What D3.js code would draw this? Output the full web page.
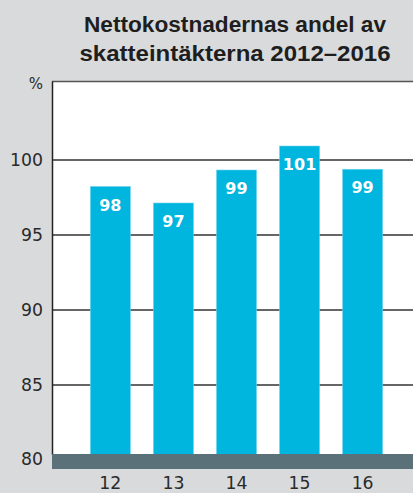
<!DOCTYPE html>
<html>
<head>
<meta charset="utf-8">
<script src="https://cdn.jsdelivr.net/npm/d3@7"></script>
<style>
  body { margin: 0; background: #d9dadc; }
  svg { display: block; font-family: "DejaVu Sans", sans-serif; }
</style>
</head>
<body>
<div id="chartArea"></div>
<script>
let years = ['12', '13', '14', '15', '16']
let values = [98.2, 97.1, 99.3, 100.9, 99.35]
let valueLabels = ['98', '97', '99', '101', '99']
let yTicks = [80, 85, 90, 95, 100]
let titleLines = ['Nettokostnadernas andel av', 'skatteintäkterna 2012–2016']

let svgWidth = 413
let svgHeight = 493
let tickFont = '"DejaVu Sans", sans-serif'

let yScale = d3.scaleLinear()
              .domain([80, 105.2])
              .range([459.5, 81.5])

let xScale = d3.scaleBand()
              .domain(years)
              .range([79, 394])
              .paddingInner(0.365)
              .paddingOuter(0.18)

let svg = d3.select('#chartArea')
    .append('svg')
    .attr('width', svgWidth)
    .attr('height', svgHeight)
    .style('background', '#d9dadc')

// title
svg.append('g').selectAll('text')
    .data(titleLines)
    .enter()
    .append('text')
    .attr('x', 235)
    .attr('y', (d, i) => 32 + i * 29)
    .attr('text-anchor', 'middle')
    .attr('font-family', '"Liberation Sans", Arial, sans-serif')
    .attr('font-size', '22px')
    .attr('font-weight', 'bold')
    .attr('fill', '#1e1e1e')
    .attr('textLength', (d, i) => i == 0 ? 302 : 311)
    .attr('lengthAdjust', 'spacingAndGlyphs')
    .text(d => d)

// white plot area
svg.append('rect')
    .attr('x', 52)
    .attr('y', yScale.range()[1])
    .attr('width', svgWidth - 52)
    .attr('height', 454 - yScale.range()[1])
    .attr('fill', '#ffffff')

svg.append('line')
    .attr('x1', 52).attr('x2', svgWidth)
    .attr('y1', yScale.range()[1]).attr('y2', yScale.range()[1])
    .attr('stroke', '#555').attr('stroke-width', 1.5)

// gridlines + y labels
let yAxis = svg.append('g')
    .attr('transform', 'translate(52,0)')
    .call(d3.axisLeft(yScale)
      .tickValues(yTicks.filter(t => t > 80))
      .tickSize(-(svgWidth - 52))
      .tickPadding(9)
      .tickFormat(d => d))
yAxis.select('.domain').remove()
yAxis.selectAll('.tick line').attr('stroke', '#333').attr('stroke-width', 1.5)
yAxis.selectAll('.tick text')
    .attr('font-size', '17.3px')
    .attr('fill', '#2a2a2a')
    .style('font-family', tickFont)

// the 80 label sits next to the base band
svg.append('text')
    .attr('x', 43)
    .attr('y', yScale(80))
    .attr('dy', '0.32em')
    .attr('text-anchor', 'end')
    .attr('font-size', '17.3px')
    .attr('fill', '#2a2a2a')
    .text(yTicks[0])

svg.append('text')
    .attr('x', 43)
    .attr('y', 89)
    .attr('text-anchor', 'end')
    .attr('font-size', '15px')
    .attr('fill', '#2a2a2a')
    .text('%')

// bars
svg.selectAll('rect.bar')
    .data(values)
    .enter()
    .append('rect')
    .attr('class', 'bar')
    .attr('x', (d, i) => xScale(years[i]))
    .attr('y', d => yScale(d))
    .attr('width', xScale.bandwidth())
    .attr('height', d => 455 - yScale(d))
    .attr('fill', '#00b5de')
    .attr('stroke', '#6fd3ee')
    .attr('stroke-width', 0.6)

svg.selectAll('text.val')
    .data(values)
    .enter()
    .append('text')
    .attr('class', 'val')
    .attr('x', (d, i) => xScale(years[i]) + xScale.bandwidth() / 2)
    .attr('y', d => yScale(d) + 24)
    .attr('text-anchor', 'middle')
    .attr('font-size', '16px')
    .attr('font-weight', 'bold')
    .attr('fill', '#ffffff')
    .text((d, i) => valueLabels[i])

// left axis line
svg.append('line')
    .attr('x1', 52.5).attr('x2', 52.5)
    .attr('y1', yScale.range()[1]).attr('y2', 455)
    .attr('stroke', '#222').attr('stroke-width', 1.5)

// base band
svg.append('rect')
    .attr('x', 52)
    .attr('y', 454)
    .attr('width', svgWidth - 52)
    .attr('height', 15)
    .attr('fill', '#5b717a')

// x labels
let xAxis = svg.append('g')
    .attr('transform', 'translate(0,469)')
    .call(d3.axisBottom(xScale).tickSize(0).tickPadding(8))
xAxis.select('.domain').remove()
xAxis.selectAll('.tick text')
    .attr('font-size', '17.3px')
    .attr('fill', '#2a2a2a')
    .style('font-family', tickFont)
</script>
</body>
</html>
